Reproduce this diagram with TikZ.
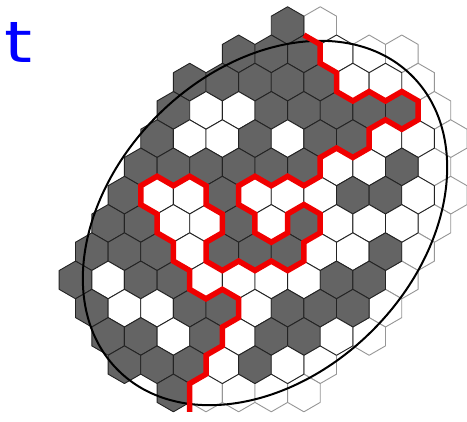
\documentclass[tikz,border=0pt]{standalone}
\usepackage{fontspec}
\newfontfamily\handfont{DejaVu Sans}
\definecolor{fill0}{gray}{1}
\definecolor{fill1}{gray}{1}
\definecolor{fill2}{RGB}{100,100,100}
\definecolor{draw0}{RGB}{150,150,150}
\definecolor{draw1}{RGB}{35,35,35}
\definecolor{draw2}{RGB}{35,35,35}
\definecolor{pathred}{RGB}{240,0,0}
\definecolor{inkblue}{RGB}{0,0,255}
\tikzset{
  hexline/.style={line width=0.9pt, line join=round},
  interface/.style={pathred, line width=5.5pt, line join=miter},
  ellipseline/.style={black, line width=2pt}
}
\begin{document}
\begin{tikzpicture}[x=1pt,y=-1pt]
\useasboundingbox (0,0) rectangle (467,422);
\node[text=inkblue, font=\handfont\fontsize{57}{57}\selectfont, anchor=base west, inner sep=0pt, xscale=1.25] (word) at (4,63) {t};
\begin{scope}[shift={(189.7,6.76)}, x=16.315pt, y=-9.42pt]
  \def\rows{%
    0/{6/2,8/0},
    1/{3/2,5/2,7/2,9/1,11/0,13/0},
    2/{0/2,2/2,4/2,6/2,8/2,10/1,12/1,14/0},
    3/{-1/2,1/1,3/1,5/2,7/2,9/2,11/2,13/2,15/0},
    4/{-2/2,0/1,2/1,4/2,6/1,8/2,10/2,12/1,14/1,16/0},
    5/{-3/2,-1/2,1/2,3/2,5/2,7/2,9/1,11/1,13/2,15/0},
    6/{-4/2,-2/1,0/1,2/2,4/1,6/1,8/1,10/2,12/2,14/1,16/0},
    7/{-5/2,-3/2,-1/1,1/1,3/2,5/1,7/2,9/1,11/1,13/1,15/0},
    8/{-6/2,-4/2,-2/2,0/1,2/2,4/2,6/2,8/1,10/1,12/2,14/0},
    9/{-7/2,-5/1,-3/2,-1/2,1/1,3/1,5/1,7/1,9/2,11/2,13/0},
    10/{-6/2,-4/1,-2/1,0/2,2/2,4/1,6/2,8/2,10/2,12/0},
    11/{-5/2,-3/2,-1/1,1/2,3/1,5/2,7/2,9/1,11/0},
    12/{-4/2,-2/2,0/2,2/1,4/2,6/1,8/0},
    13/{-1/2,1/0,3/0,5/0,7/0}}
  % pass 1: light cells outside the domain
  \foreach \r/\cells in \rows {
    \foreach \i/\c in \cells {
      \ifnum\c=0
        \filldraw[hexline, fill=fill0, draw=draw0]
          (\i,3*\r) -- (\i+1,3*\r+1) -- (\i+1,3*\r+3) -- (\i,3*\r+4)
          -- (\i-1,3*\r+3) -- (\i-1,3*\r+1) -- cycle;
      \fi
    }
  }
  % pass 2: cells inside
  \foreach \r/\cells in \rows {
    \foreach \i/\c in \cells {
      \ifnum\c>0
        \filldraw[hexline, fill=fill\c, draw=draw\c]
          (\i,3*\r) -- (\i+1,3*\r+1) -- (\i+1,3*\r+3) -- (\i,3*\r+4)
          -- (\i-1,3*\r+3) -- (\i-1,3*\r+1) -- cycle;
      \fi
    }
  }
\end{scope}
\draw[ellipseline, rotate around={45:(265,223)}] (265,223) ellipse [x radius=208, y radius=152];
\begin{scope}[shift={(189.7,6.76)}, x=16.315pt, y=-9.42pt]
  \draw[interface] (7,3) -- (8,4) -- (8,6) -- (9,7) -- (9,9) -- (10,10) -- (11,9)
    -- (12,10) -- (13,9) -- (14,10) -- (14,12) -- (13,13) -- (12,12) -- (11,13)
    -- (11,15) -- (10,16) -- (9,15) -- (8,16) -- (8,18) -- (7,19) -- (6,18)
    -- (5,19) -- (4,18) -- (3,19) -- (3,21) -- (4,22) -- (4,24) -- (5,25)
    -- (6,24) -- (6,22) -- (7,21) -- (8,22) -- (8,24) -- (7,25) -- (7,27)
    -- (6,28) -- (5,27) -- (4,28) -- (3,27) -- (2,28) -- (1,27) -- (1,25)
    -- (2,24) -- (2,22) -- (1,21) -- (1,19) -- (0,18) -- (-1,19) -- (-2,18)
    -- (-3,19) -- (-3,21) -- (-2,22) -- (-2,24) -- (-1,25) -- (-1,27) -- (0,28)
    -- (0,30) -- (1,31) -- (2,30) -- (3,31) -- (3,33) -- (2,34) -- (2,36)
    -- (1,37) -- (1,39) -- (0,40) -- (0,43);
\end{scope}
\end{tikzpicture}
\end{document}
